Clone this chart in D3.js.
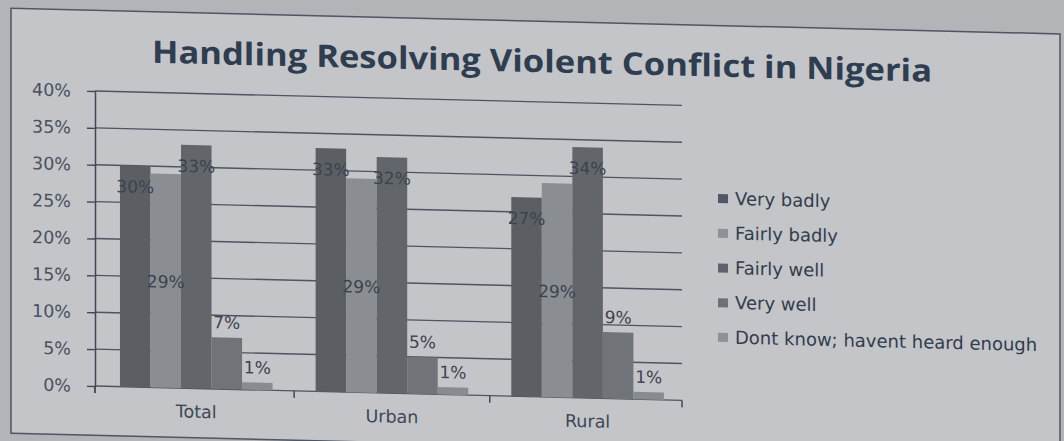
<!DOCTYPE html>
<html>
<head>
<meta charset="utf-8">
<script src="https://cdn.jsdelivr.net/npm/d3@7"></script>
<style>
    body { margin: 0; background: #b2b4b7; }
    svg { display: block; }
    text { font-family: "DejaVu Sans", "Open Sans", sans-serif; }
</style>
</head>
<body>
<div id="chart"></div>
<script>
// Chart data
const categories = ["Total", "Urban", "Rural"];
const seriesNames = [
    "Very badly",
    "Fairly badly",
    "Fairly well",
    "Very well",
    "Dont know; havent heard enough",
];
const veryBadly = [0.30, 0.33, 0.27];
const fairlyBadly = [0.29, 0.29, 0.29];
const fairlyWell = [0.33, 0.32, 0.34];
const veryWell = [0.07, 0.05, 0.09];
const dontKnow = [0.01, 0.01, 0.01];
const yTicks = [0, 0.05, 0.10, 0.15, 0.20, 0.25, 0.30, 0.35, 0.40];

const seriesValues = [veryBadly, fairlyBadly, fairlyWell, veryWell, dontKnow];
const barColors = ["#5b5f64", "#8a8d91", "#62666a", "#707377", "#898c8f"];
const legendColors = ["#4f5864", "#8d9297", "#5c636c", "#6c7177", "#8e9297"];
// where the data label sits on each series
const labelPos = ["insideEnd", "center", "insideEnd", "outsideEnd", "outsideEnd"];

const width = 1064;
const height = 441;

const svg = d3
    .select("#chart")
    .append("svg")
    .attr("width", width)
    .attr("height", height);

// the photographed page is slightly tilted
const g = svg.append("g").attr("transform", "skewY(1.4)");

// Page / chart frame
g.append("rect")
    .attr("x", 11)
    .attr("y", 8)
    .attr("width", 1049)
    .attr("height", 425)
    .attr("fill", "#c3c5c8")
    .attr("stroke", "#4e5663")
    .attr("stroke-width", 1.5);

// Title
g.append("text")
    .attr("x", 542)
    .attr("y", 59)
    .attr("text-anchor", "middle")
    .attr("textLength", 780)
    .attr("lengthAdjust", "spacingAndGlyphs")
    .style("font-family", "'Open Sans', sans-serif")
    .style("font-size", "31px")
    .style("font-weight", "bold")
    .style("fill", "#2f3d50")
    .text("Handling Resolving Violent Conflict in Nigeria");

// Scales
const x0 = d3
    .scaleBand()
    .domain(categories)
    .range([95, 682])
    .paddingInner(0.22)
    .paddingOuter(0.11)
    .align(0.58);

const x1 = d3
    .scaleBand()
    .domain(seriesNames)
    .range([0, x0.bandwidth()]);

const y = d3.scaleLinear().domain([0, 0.40]).range([383.7, 88.7]);

// Gridlines
g.append("g")
    .selectAll("line")
    .data(yTicks)
    .enter()
    .append("line")
    .attr("x1", 95)
    .attr("x2", 682)
    .attr("y1", (d) => y(d))
    .attr("y2", (d) => y(d))
    .attr("stroke", "#4d5561")
    .attr("stroke-width", 1.4);

// Y axis
const yAxis = g
    .append("g")
    .attr("transform", "translate(95,0)")
    .call(
        d3
            .axisLeft(y)
            .tickValues(yTicks)
            .tickFormat(d3.format(".0%"))
            .tickSize(8)
            .tickSizeOuter(0)
            .tickPadding(16)
    );
yAxis.select(".domain").attr("stroke", "#3f4855").attr("stroke-width", 1.5);
yAxis.selectAll(".tick line").attr("stroke", "#3f4855").attr("stroke-width", 1.4);
yAxis
    .selectAll(".tick text")
    .style("font-size", "17.5px")
    .style("font-family", "'DejaVu Sans', sans-serif")
    .style("fill", "#485160");

// little bit of the y axis below the baseline
g.append("line")
    .attr("x1", 95)
    .attr("x2", 95)
    .attr("y1", y(0))
    .attr("y2", y(0) + 7)
    .attr("stroke", "#3f4855")
    .attr("stroke-width", 1.5);

// X axis ticks between categories
const gap = x0.step() * x0.paddingInner();
const boundaries = [95]
    .concat(categories.slice(1).map((c) => x0(c) - gap / 2))
    .concat([682]);
g.append("g")
    .selectAll("line")
    .data(boundaries)
    .enter()
    .append("line")
    .attr("x1", (d) => d)
    .attr("x2", (d) => d)
    .attr("y1", y(0))
    .attr("y2", y(0) + 7)
    .attr("stroke", "#3f4855")
    .attr("stroke-width", 1.5);

// Category labels
g.append("g")
    .selectAll("text")
    .data(categories)
    .enter()
    .append("text")
    .attr("x", (d) => x0(d) + x0.bandwidth() / 2)
    .attr("y", 413)
    .attr("text-anchor", "middle")
    .style("font-size", "17.5px")
    .style("fill", "#3e4756")
    .text((d) => d);

// Bars
const barData = [];
categories.forEach((c, ci) => {
    seriesNames.forEach((s, si) => {
        barData.push({ category: c, series: s, si: si, value: seriesValues[si][ci] });
    });
});

g.append("g")
    .selectAll("rect")
    .data(barData)
    .enter()
    .append("rect")
    .attr("x", (d) => x0(d.category) + x1(d.series))
    .attr("y", (d) => y(d.value))
    .attr("width", x1.bandwidth())
    .attr("height", (d) => y(0) - y(d.value))
    .attr("fill", (d) => barColors[d.si]);

// Data labels
g.append("g")
    .selectAll("text")
    .data(barData)
    .enter()
    .append("text")
    .attr("x", (d) => x0(d.category) + x1(d.series) + x1.bandwidth() / 2)
    .attr("y", (d) => {
        const pos = labelPos[d.si];
        if (pos === "insideEnd") return y(d.value) + 27;
        if (pos === "center") return (y(d.value) + y(0)) / 2 + 7;
        return y(d.value) - 9;
    })
    .attr("text-anchor", "middle")
    .style("font-size", "17px")
    .style("fill", "#3b4350")
    .text((d) => d3.format(".0%")(d.value));

// Legend
const legend = g.append("g").attr("transform", "translate(718,181)");

legend
    .selectAll("rect")
    .data(seriesNames)
    .enter()
    .append("rect")
    .attr("x", 0)
    .attr("y", (d, i) => i * 34.7 - 4.5)
    .attr("width", 10)
    .attr("height", 9)
    .attr("fill", (d, i) => legendColors[i]);

legend
    .selectAll("text")
    .data(seriesNames)
    .enter()
    .append("text")
    .attr("x", 17)
    .attr("y", (d, i) => i * 34.7 + 6)
    .style("font-size", "18px")
    .style("fill", "#323d4d")
    .text((d) => d);
</script>
</body>
</html>
